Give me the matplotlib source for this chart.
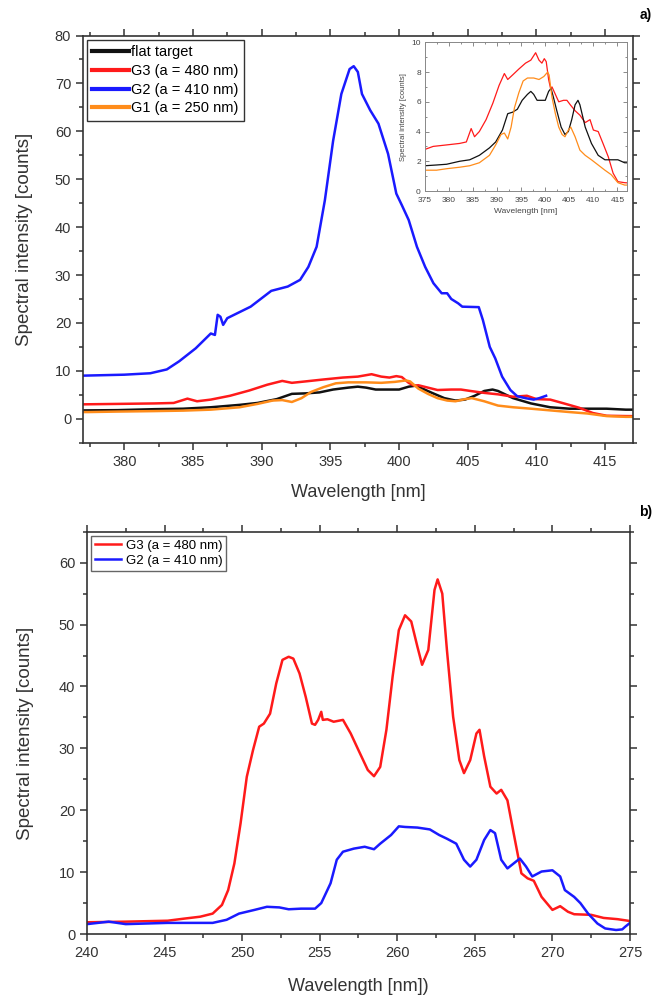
import numpy as np
import matplotlib.pyplot as plt
from matplotlib.ticker import MultipleLocator

plt.rcParams['font.family'] = ['Liberation Sans', 'DejaVu Sans']

# ---- panel a) data (wavelength nm, counts) ----
g2a_x = [377, 380, 381.9, 383.1, 384.0, 385.2, 386.3, 386.6, 386.8, 387.0, 387.2, 387.5,
         389.2, 390.7, 391.9, 392.8, 393.4, 394.0, 394.6, 395.2, 395.8, 396.4, 396.7, 397.0,
         397.3, 397.9, 398.5, 399.2, 399.8, 400.2, 400.7, 401.3, 401.9, 402.5, 403.1, 403.5,
         403.8, 404.3, 404.6, 405.8, 406.1, 406.6, 407.0, 407.5, 408.1, 408.6, 409.2, 409.8,
         410.2, 410.7]
g2a_y = [9.0, 9.2, 9.5, 10.3, 12.0, 14.7, 17.8, 17.5, 21.7, 21.3, 19.6, 21.0,
         23.4, 26.7, 27.6, 29.0, 31.7, 35.9, 45.6, 58.0, 67.8, 73.0, 73.6, 72.4,
         67.8, 64.4, 61.6, 55.3, 47.0, 44.6, 41.5, 35.9, 31.7, 28.3, 26.2, 26.2,
         25.0, 24.1, 23.4, 23.3, 20.6, 15.0, 12.6, 8.8, 6.0, 4.7, 4.3, 4.0,
         4.3, 4.8]

g3a_x = [375, 376.7, 379.5, 382.2, 383.6, 384.6, 385.3, 386.3, 387.7, 389.1, 390.4, 391.5,
         392.2, 393.2, 394.5, 395.9, 397.0, 398.0, 398.7, 399.3, 399.8, 400.2, 400.7, 401.1,
         401.4, 402.1, 402.8, 403.8, 404.5, 405.2, 406.2, 407.2, 408.3, 409.3, 410.0, 411.0,
         412.0, 413.1, 414.1, 415.1, 416.5, 417]
g3a_y = [2.8, 3.0, 3.1, 3.2, 3.3, 4.2, 3.65, 4.0, 4.8, 5.9, 7.1, 7.9,
         7.5, 7.8, 8.2, 8.6, 8.8, 9.3, 8.8, 8.6, 8.9, 8.7, 7.5, 6.9,
         7.0, 6.5, 6.0, 6.1, 6.1, 5.8, 5.4, 5.1, 4.6, 4.8, 4.1, 4.0,
         3.2, 2.3, 1.2, 0.63, 0.56, 0.55]

flat_x = [375, 377.4, 379.5, 382.2, 384.3, 386.3, 388.4, 389.7, 391.1, 392.2, 393.2, 394.2,
          395.2, 396.3, 397.0, 397.6, 398.3, 399.3, 400.0, 400.7, 401.2, 401.7, 402.4, 403.3,
          404.1, 404.8, 405.5, 406.2, 406.8, 407.2, 408.3, 409.6, 411.0, 412.4, 413.7, 415.1,
          416.5, 417]
flat_y = [1.7, 1.75, 1.8, 2.0, 2.1, 2.4, 2.9, 3.3, 4.1, 5.2, 5.3, 5.5,
          6.1, 6.5, 6.7, 6.5, 6.1, 6.1, 6.1, 6.7, 6.9, 6.3, 5.4, 4.3,
          3.8, 4.0, 4.8, 5.8, 6.1, 5.8, 4.3, 3.2, 2.4, 2.1, 2.1, 2.1,
          1.9, 1.9]

g1a_x = [375, 377.4, 379.5, 382.2, 384.3, 386.3, 388.4, 389.7, 390.8, 391.5, 392.2, 392.9,
         393.6, 394.5, 395.4, 396.3, 397.6, 398.7, 399.7, 400.5, 400.8, 401.4, 402.1, 402.8,
         403.5, 404.1, 404.8, 405.3, 406.2, 407.2, 408.3, 409.6, 411.0, 412.4, 413.7, 415.1,
         416.5, 417]
g1a_y = [1.4, 1.4, 1.5, 1.6, 1.7, 1.9, 2.4, 3.1, 3.8, 3.9, 3.5, 4.3,
         5.6, 6.6, 7.4, 7.6, 7.6, 7.5, 7.7, 8.0, 7.8, 6.3, 5.2, 4.3,
         3.8, 3.65, 4.1, 4.3, 3.65, 2.75, 2.4, 2.1, 1.75, 1.4, 1.1, 0.56,
         0.4, 0.4]

# ---- panel b) data ----
g3b_x = [240.0, 242.5, 245.2, 246.3, 247.3, 248.1, 248.7, 249.1, 249.5, 249.9, 250.3, 250.7,
         251.1, 251.4, 251.8, 252.2, 252.6, 253.0, 253.3, 253.7, 254.1, 254.5, 254.7, 254.9,
         255.1, 255.2, 255.5, 255.9, 256.5, 257.0, 257.5, 258.1, 258.5, 258.9, 259.3, 259.7,
         260.1, 260.5, 260.9, 261.3, 261.6, 262.0, 262.4, 262.6, 262.9, 263.2, 263.6, 264.0,
         264.3, 264.7, 265.1, 265.3, 265.6, 266.0, 266.4, 266.7, 267.1, 267.5, 268.0, 268.4,
         268.8, 269.3, 270.0, 270.5, 271.0, 271.4, 272.5, 273.3, 274.2, 275.0]
g3b_y = [1.9, 2.0, 2.15, 2.5, 2.8, 3.3, 4.7, 7.1, 11.4, 17.9, 25.4, 29.7,
         33.5, 34.0, 35.6, 40.5, 44.3, 44.8, 44.5, 42.1, 38.3, 34.0, 33.8, 34.6,
         35.9, 34.6, 34.7, 34.3, 34.6, 32.4, 29.7, 26.5, 25.5, 27.0, 33.0, 41.6,
         49.1, 51.5, 50.5, 46.4, 43.5, 45.9, 55.6, 57.3, 55.0, 45.9, 35.1, 28.1,
         26.0, 28.1, 32.4, 33.0, 28.7, 23.8, 22.7, 23.3, 21.6, 16.3, 9.8, 9.0,
         8.6, 6.0, 3.9, 4.5, 3.6, 3.2, 3.1, 2.6, 2.4, 2.1]

g2b_x = [240.0, 241.4, 242.5, 245.2, 248.1, 249.0, 249.8, 250.8, 251.6, 252.4, 253.0, 253.8,
         254.7, 255.1, 255.7, 256.1, 256.5, 257.2, 257.9, 258.5, 258.9, 259.6, 260.1, 260.5,
         261.3, 262.1, 262.7, 263.2, 263.8, 264.3, 264.7, 265.1, 265.6, 266.0, 266.3, 266.7,
         267.1, 267.5, 267.9, 268.3, 268.7, 269.3, 270.0, 270.5, 270.8, 271.4, 271.8, 272.3,
         272.9, 273.4, 274.1, 274.5, 274.7, 275.0]
g2b_y = [1.6, 2.0, 1.6, 1.8, 1.8, 2.3, 3.3, 3.9, 4.4, 4.3, 4.0, 4.1,
         4.1, 5.0, 8.2, 12.0, 13.3, 13.8, 14.1, 13.7, 14.6, 16.0, 17.4, 17.3,
         17.2, 16.9, 16.0, 15.4, 14.6, 12.0, 10.9, 12.0, 15.2, 16.8, 16.3, 12.0,
         10.6, 11.4, 12.2, 10.9, 9.3, 10.1, 10.3, 9.3, 7.1, 6.0, 5.0, 3.3,
         1.7, 0.9, 0.65, 0.75, 1.2, 1.8]

RED = '#ff1a1a'
BLUE = '#1a1aff'
ORANGE = '#ff8c1a'
BLACK = '#111111'
SPINE = '#333333'


def style_axes(ax, xmaj, xmin, ymaj, ymin, size=10.5):
    ax.xaxis.set_major_locator(MultipleLocator(xmaj))
    ax.xaxis.set_minor_locator(MultipleLocator(xmin))
    ax.yaxis.set_major_locator(MultipleLocator(ymaj))
    ax.yaxis.set_minor_locator(MultipleLocator(ymin))
    ax.tick_params(which='both', direction='out', top=True, right=True,
                   color=SPINE, width=1.1, labelsize=size, labelcolor='#333333')
    ax.tick_params(which='major', length=5)
    ax.tick_params(which='minor', length=3)
    for s in ax.spines.values():
        s.set_linewidth(1.2)
        s.set_color(SPINE)


fig = plt.figure(figsize=(6.54, 9.98), dpi=100)

# panel a)
ax1 = fig.add_axes([0.1269, 0.5564, 0.8405, 0.408])
ax1.plot(flat_x, flat_y, color=BLACK, lw=1.8, label='flat target')
ax1.plot(g3a_x, g3a_y, color=RED, lw=1.8, label='G3 (a = 480 nm)')
ax1.plot(g2a_x, g2a_y, color=BLUE, lw=1.8, label='G2 (a = 410 nm)')
ax1.plot(g1a_x, g1a_y, color=ORANGE, lw=1.8, label='G1 (a = 250 nm)')
ax1.set_xlim(377, 417)
ax1.set_ylim(-5, 80)
style_axes(ax1, 5, 2.5, 10, 5)
ax1.set_xlabel('Wavelength [nm]', fontsize=13, color='#333333', labelpad=11)
ax1.set_ylabel('Spectral intensity [counts]', fontsize=13.5, color='#333333', labelpad=16)
leg1 = ax1.legend(loc='upper left', fontsize=10.5, fancybox=False, framealpha=1,
                  edgecolor=SPINE, handlelength=2.5, handletextpad=0.15,
                  borderaxespad=0.3, borderpad=0.35, labelspacing=0.33)
for h in leg1.get_lines():
    h.set_linewidth(3)
fig.text(0.997, 0.985, 'a)', ha='right', va='center', fontsize=10, fontweight='bold')

# inset
axi = fig.add_axes([0.6498, 0.8086, 0.309, 0.149])
axi.plot(g3a_x, g3a_y, color=RED, lw=0.9)
axi.plot(flat_x, flat_y, color=BLACK, lw=0.9)
axi.plot(g1a_x, g1a_y, color=ORANGE, lw=0.9)
axi.set_xlim(375, 417)
axi.set_ylim(0, 10)
axi.xaxis.set_major_locator(MultipleLocator(5))
axi.xaxis.set_minor_locator(MultipleLocator(2.5))
axi.yaxis.set_major_locator(MultipleLocator(2))
axi.yaxis.set_minor_locator(MultipleLocator(1))
axi.tick_params(which='both', direction='in', top=True, right=True, color='#777777',
                width=0.6, labelsize=6, labelcolor='#444444')
axi.tick_params(axis='x', pad=4)
axi.tick_params(axis='y', pad=3)
axi.tick_params(which='major', length=3)
axi.tick_params(which='minor', length=1.5)
for s in axi.spines.values():
    s.set_linewidth(0.7)
    s.set_color('#888888')
axi.set_xlabel('Wavelength [nm]', fontsize=6, color='#444444', labelpad=3)
axi.set_ylabel('Spectral intensity [counts]', fontsize=5.5, color='#444444', labelpad=3)

# panel b)
ax2 = fig.add_axes([0.133, 0.0641, 0.8303, 0.4031])
ax2.plot(g3b_x, g3b_y, color=RED, lw=1.8, label='G3 (a = 480 nm)')
ax2.plot(g2b_x, g2b_y, color=BLUE, lw=1.8, label='G2 (a = 410 nm)')
ax2.set_xlim(240, 275)
ax2.set_ylim(0, 65)
style_axes(ax2, 5, 2.5, 10, 5)
ax2.set_xlabel('Wavelength [nm])', fontsize=13, color='#333333', labelpad=13)
ax2.set_ylabel('Spectral intensity [counts]', fontsize=13.5, color='#333333', labelpad=18)
ax2.legend(loc='upper left', fontsize=9.5, fancybox=False, framealpha=1,
           edgecolor='#666666', handlelength=2.0, handletextpad=0.35,
           borderaxespad=0.3, borderpad=0.3, labelspacing=0.2)
fig.text(0.997, 0.487, 'b)', ha='right', va='center', fontsize=10, fontweight='bold')

fig.savefig('out.png', dpi=100)
